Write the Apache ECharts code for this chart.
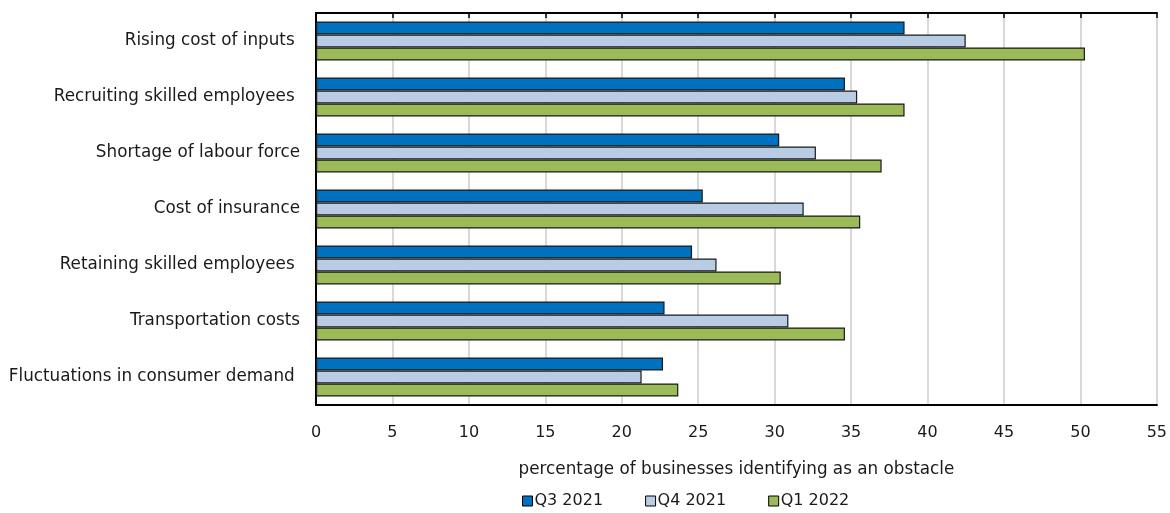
<!DOCTYPE html>
<html>
<head>
<meta charset="utf-8">
<script src="https://cdn.jsdelivr.net/npm/echarts@6/dist/echarts.min.js"></script>
<style>
  html, body { margin: 0; padding: 0; background: #fff; }
  #chart { width: 1170px; height: 513px; }
</style>
</head>
<body>
<div id="chart"></div>
<script>
// obstacles, top to bottom
const categories = [
  'Rising cost of inputs ',
  'Recruiting skilled employees ',
  'Shortage of labour force',
  'Cost of insurance',
  'Retaining skilled employees ',
  'Transportation costs',
  'Fluctuations in consumer demand '
]
const seriesNames = ['Q3 2021', 'Q4 2021', 'Q1 2022']
const q3_2021 = [38.5, 34.6, 30.3, 25.3, 24.6, 22.8, 22.7]
const q4_2021 = [42.5, 35.4, 32.7, 31.9, 26.2, 30.9, 21.3]
const q1_2022 = [50.3, 38.5, 37.0, 35.6, 30.4, 34.6, 23.7]
const xTicks = [0, 5, 10, 15, 20, 25, 30, 35, 40, 45, 50, 55]

const colors = ['#0070c0', '#b8cce4', '#9bbb59']
const font = '"DejaVu Sans", Verdana, sans-serif'

const myChart = echarts.init(document.getElementById('chart'))

function barSeries(name, data, color) {
  return {
    name: name,
    type: 'bar',
    barWidth: 13,
    barGap: '0%',
    itemStyle: {
      color: color,
      borderColor: '#1a1a1a',
      borderWidth: 1.2
    },
    data: data
  }
}

myChart.setOption({
  animation: false,
  textStyle: { fontFamily: font },
  grid: {
    left: 316,
    right: 12,
    top: 13,
    bottom: 108,
    show: true,
    borderColor: '#000',
    borderWidth: 1.5
  },
  legend: {
    top: 493,
    left: 522,
    icon: 'rect',
    itemWidth: 10,
    itemHeight: 10,
    itemGap: 42,
    padding: 0,
    textStyle: { fontSize: 16, color: '#1a1a1a', fontFamily: font, padding: [0, 0, 0, -3] },
    itemStyle: { borderColor: '#000', borderWidth: 1 },
    data: seriesNames
  },
  xAxis: [
    {
      type: 'value',
      min: xTicks[0],
      max: xTicks[xTicks.length - 1],
      interval: 5,
      position: 'bottom',
      name: 'percentage of businesses identifying as an obstacle',
      nameLocation: 'middle',
      nameGap: 56,
      nameTextStyle: { fontSize: 16.8, color: '#1a1a1a', fontFamily: font },
      axisLine: { show: true, lineStyle: { color: '#000', width: 2 } },
      axisTick: { show: false },
      axisLabel: { fontSize: 16, color: '#1a1a1a', margin: 20, fontFamily: font },
      splitLine: { show: true, lineStyle: { color: '#d9d9d9', width: 2 } }
    },
    {
      type: 'value',
      min: xTicks[0],
      max: xTicks[xTicks.length - 1],
      interval: 5,
      position: 'top',
      axisLine: { show: true, lineStyle: { color: '#000', width: 2 } },
      axisTick: { show: true, inside: true, length: 5, lineStyle: { color: '#000', width: 1.5 } },
      axisLabel: { show: false },
      splitLine: { show: false }
    }
  ],
  yAxis: {
    type: 'category',
    inverse: true,
    data: categories,
    axisLine: { show: true, lineStyle: { color: '#000', width: 2 } },
    axisTick: { show: false },
    axisLabel: { fontSize: 16.8, color: '#1a1a1a', margin: 16, fontFamily: font }
  },
  series: [
    barSeries(seriesNames[0], q3_2021, colors[0]),
    barSeries(seriesNames[1], q4_2021, colors[1]),
    barSeries(seriesNames[2], q1_2022, colors[2])
  ]
})
</script>
</body>
</html>
